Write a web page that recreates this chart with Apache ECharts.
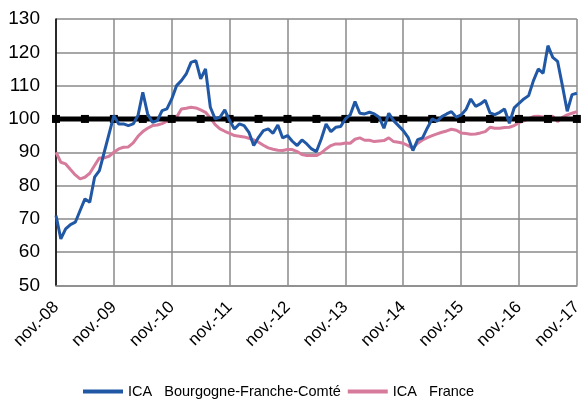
<!DOCTYPE html>
<html>
<head>
<meta charset="utf-8">
<script src="https://cdn.jsdelivr.net/npm/echarts@6/dist/echarts.min.js"></script>
<style>
html,body{margin:0;padding:0;background:#fff;}
#chart{width:585px;height:403px;}
</style>
</head>
<body>
<div id="chart"></div>
<script>
// Month categories: nov. 2008 -> nov. 2017 (109 months)
const monthNames = ["janv.","févr.","mars","avr.","mai","juin","juil.","août","sept.","oct.","nov.","déc."];
const categories = [];
for (let k = 0; k < 109; k++) {
  const m = (10 + k) % 12;
  const y = 8 + Math.floor((10 + k) / 12);
  categories.push(monthNames[m] + "-" + String(y).padStart(2, "0"));
}

const seriesNames = ["ICA   Bourgogne-Franche-Comté", "ICA   France"];

const icaBFC = [
  71, 64, 67, 68.3, 69, 72.5, 76, 75, 82.5, 84.5, 90, 95.5,
  101, 98.5, 98.5, 98, 98.5, 101, 108, 101.5, 99, 99.5, 102.5, 103,
  106, 110, 111.5, 113.5, 117, 117.5, 112, 115, 103.5, 100, 100.5, 102.7,
  99.5, 97, 98.5, 98, 96, 92, 94.5, 96.5, 97, 95.7, 98.2, 94.3,
  95, 93.3, 92, 93.7, 92.5, 91, 90.2, 94, 98.5, 96.2, 97.5, 97.7,
  100, 101.2, 105.2, 101.7, 101.5, 102, 101.5, 100.5, 97.2, 101.7, 99.5, 98,
  96.5, 94.5, 90.5, 93.8, 94.3, 97.3, 100, 99.3, 100.7, 101.5, 102.2, 100.5,
  101.2, 102.8, 106, 103.8, 104.5, 105.6, 101.8, 101.3, 102, 103, 98.7, 103.3,
  104.7, 106, 107, 111.5, 115, 113.7, 122, 118.5, 117.3, 110, 102.3, 107.3, 107.7
];

const icaFrance = [
  90, 87, 86.5, 84.8, 83.2, 82, 82.5, 83.7, 86, 88.3, 88.3, 88.8,
  90, 91, 91.5, 91.6, 92.8, 94.8, 96.2, 97.2, 98, 98.2, 98.6, 99.3,
  99.7, 100.5, 103, 103.2, 103.5, 103.3, 102.7, 102, 100.3, 98.3, 97, 96.3,
  95.7, 95, 94.8, 94.6, 94.2, 93.7, 93, 92.1, 91.3, 90.9, 90.6, 90.5,
  90.8, 90.8, 90.2, 89.3, 89, 89, 89, 89.8, 91, 92, 92.5, 92.5,
  92.8, 92.7, 93.9, 94.3, 93.6, 93.6, 93.2, 93.4, 93.5, 94.3, 93.2, 93,
  92.7, 92, 91.2, 92.7, 93.7, 94.4, 95, 95.5, 96, 96.4, 96.9, 96.6,
  95.8, 95.6, 95.4, 95.5, 95.8, 96.2, 97.5, 97.2, 97.2, 97.4, 97.5, 98,
  98.9, 99.4, 100, 100.7, 100.8, 100.6, 100.4, 100.8, 99.2, 100.5, 101.2, 101.7, 102.2
];

const refLine = [
  100,100,100,100,100,100,100,100,100,100,100,100,
  100,100,100,100,100,100,100,100,100,100,100,100,
  100,100,100,100,100,100,100,100,100,100,100,100,
  100,100,100,100,100,100,100,100,100,100,100,100,
  100,100,100,100,100,100,100,100,100,100,100,100,
  100,100,100,100,100,100,100,100,100,100,100,100,
  100,100,100,100,100,100,100,100,100,100,100,100,
  100,100,100,100,100,100,100,100,100,100,100,100,
  100,100,100,100,100,100,100,100,100,100,100,100,100
];

const yTicks = { min: 50, max: 130, step: 10 };

const FONT = "Arial, 'Liberation Sans', sans-serif";
const chart = echarts.init(document.getElementById('chart'), null, { renderer: 'canvas' });
chart.setOption({
  animation: false,
  backgroundColor: '#ffffff',
  grid: { left: 56, right: 1, top: 19, bottom: 117.5, containLabel: false },
  legend: {
    data: seriesNames,
    left: 83, top: 384, padding: 0,
    icon: 'rect', itemWidth: 40, itemHeight: 4, itemGap: 7,
    textStyle: { fontFamily: FONT, fontSize: 14.5, color: '#000' }
  },
  xAxis: {
    type: 'category',
    data: categories,
    boundaryGap: false,
    axisLine: { show: true, lineStyle: { color: '#8a8a8a', width: 1.5 } },
    axisTick: { show: false },
    axisLabel: {
      interval: (i) => i % 12 === 0,
      rotate: 45, margin: 19,
      fontFamily: FONT, fontSize: 17, color: '#000',
      formatter: (v) => v
    },
    splitLine: { show: true, interval: (i) => i % 12 === 0, lineStyle: { color: '#8a8a8a', width: 1.5 } }
  },
  yAxis: {
    type: 'value',
    min: yTicks.min, max: yTicks.max, interval: yTicks.step,
    axisLine: { show: true, lineStyle: { color: '#000', width: 1.5 } },
    axisTick: { show: false },
    axisLabel: { margin: 16, fontFamily: FONT, fontSize: 19, color: '#000' },
    splitLine: { show: true, lineStyle: { color: '#8a8a8a', width: 1.5 } }
  },
  series: [
    {
      name: seriesNames[1], type: 'line', data: icaFrance,
      symbol: 'none', lineStyle: { color: '#D77B9D', width: 3 },
      itemStyle: { color: '#D77B9D' }, z: 2
    },
    {
      name: 'ref', type: 'line', data: refLine,
      symbol: 'rect', showAllSymbol: true,
      symbolSize: (v, p) => (p.dataIndex % 6 === 0 ? 8 : 0),
      lineStyle: { color: '#000', width: 5 },
      itemStyle: { color: '#000' }, z: 3
    },
    {
      name: seriesNames[0], type: 'line', data: icaBFC,
      symbol: 'none', lineStyle: { color: '#2158A6', width: 3 },
      itemStyle: { color: '#2158A6' }, z: 4
    }
  ]
});
</script>
</body>
</html>
